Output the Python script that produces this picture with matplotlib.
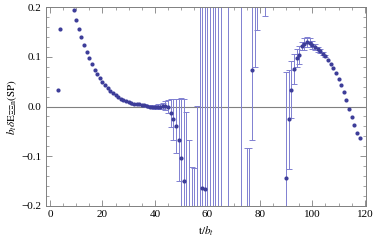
import matplotlib
matplotlib.use("Agg")
import matplotlib.pyplot as plt
from matplotlib.ticker import MultipleLocator
import numpy as np

plt.rcParams['font.family'] = ['Liberation Serif', 'DejaVu Serif']
plt.rcParams['mathtext.fontset'] = 'stix'

# early-time plateau region (t = 3 .. 51)
t_left = list(range(3, 52))
v_left = [0.033, 0.157, 0.30, 0.27, 0.24, 0.215, 0.195, 0.175, 0.157, 0.140,
          0.124, 0.109, 0.097, 0.085, 0.074, 0.065, 0.057, 0.050, 0.043, 0.037,
          0.032, 0.027, 0.023, 0.019, 0.016, 0.013, 0.011, 0.009, 0.007, 0.005,
          0.005, 0.005, 0.004, 0.003, 0.001, 0.000, -0.001, -0.001, 0.000, 0.000,
          0.001, 0.002, 0.000, -0.013, -0.026, -0.039, -0.067, -0.103, -0.151]
e_left = [0.0, 0.0, 0.0, 0.0, 0.0, 0.0, 0.0, 0.0, 0.0, 0.0,
          0.0, 0.0, 0.0, 0.0, 0.0, 0.0, 0.0, 0.0, 0.0, 0.0,
          0.0, 0.0, 0.0, 0.0, 0.0, 0.0, 0.0, 0.0, 0.0, 0.001,
          0.001, 0.001, 0.001, 0.002, 0.002, 0.003, 0.003, 0.004, 0.005, 0.006,
          0.007, 0.010, 0.013, 0.029, 0.042, 0.055, 0.083, 0.120, 0.167]

# noisy middle region
t_mid = [52, 53, 54, 55, 56, 57, 58, 59, 60, 61, 62, 63, 64, 65,
         68, 73, 75, 76, 77, 78, 79, 82]
v_mid = [-0.25, -0.30, -0.35, -0.40, -0.50, -0.60, -0.165, -0.166, -0.70, -0.80,
         -0.90, 0.90, 0.80, -0.70, 0.90, -0.90, -0.35, -0.30, 0.073, 0.35, 0.40, 0.50]
e_mid = [0.238, 0.233, 0.228, 0.275, 0.501, 1.0, 0.6, 0.6, 1.2, 1.2,
         1.3, 1.3, 1.2, 1.2, 1.4, 1.4, 0.266, 0.216, 0.14, 0.27, 0.245, 0.317]

# late-time region (t = 90 .. 118)
t_right = list(range(90, 119))
v_right = [-0.145, -0.026, 0.034, 0.075, 0.097, 0.104, 0.122, 0.126, 0.130, 0.129,
           0.124, 0.120, 0.115, 0.112, 0.106, 0.101, 0.094, 0.086, 0.077, 0.067,
           0.056, 0.043, 0.030, 0.013, -0.005, -0.022, -0.038, -0.053, -0.063]
e_right = [0.215, 0.100, 0.057, 0.030, 0.018, 0.018, 0.009, 0.012, 0.011, 0.010,
           0.008, 0.006, 0.005, 0.004, 0.003, 0.002, 0.0, 0.0, 0.0, 0.0,
           0.0, 0.0, 0.0, 0.0, 0.0, 0.0, 0.0, 0.0, 0.0]

t = np.array(t_left + t_mid + t_right)
v = np.array(v_left + v_mid + v_right)
e = np.array(e_left + e_mid + e_right)

fig = plt.figure(figsize=(3.74, 2.44), dpi=100)
ax = fig.add_axes([0.123, 0.157, 0.856, 0.813])

pt_col = (0.24, 0.24, 0.60)
bar_col = (0.50, 0.50, 0.82)

ax.axhline(0, color='0.5', lw=0.8, zorder=1)
has_err = e > 0
ax.errorbar(t[has_err], v[has_err], yerr=e[has_err], fmt='none', ecolor=bar_col,
            elinewidth=0.7, capsize=2.4, capthick=0.7, zorder=2)
ax.plot(t, v, 'o', color=pt_col, ms=3.0, mec='none', zorder=3)

ax.set_xlim(-1.5, 120.5)
ax.set_ylim(-0.2, 0.2)
ax.xaxis.set_major_locator(MultipleLocator(20))
ax.xaxis.set_minor_locator(MultipleLocator(5))
ax.yaxis.set_major_locator(MultipleLocator(0.1))
ax.yaxis.set_minor_locator(MultipleLocator(0.02))
ax.set_yticks([-0.2, -0.1, 0.0, 0.1, 0.2])
ax.set_yticklabels(['\u22120.2', '\u22120.1', '0.0', '0.1', '0.2'])

ax.tick_params(which='both', direction='in', top=True, right=True,
               color='0.5', labelsize=8, pad=3)
ax.tick_params(which='major', length=4, width=0.6)
ax.tick_params(which='minor', length=2, width=0.5)
for s in ax.spines.values():
    s.set_color('0.5')
    s.set_linewidth(0.7)

ax.set_xlabel(r'$\mathrm{t}/b_t$', fontsize=8, labelpad=4)
ax.set_ylabel(r'$b_t\delta\mathrm{E}_{\Xi\Xi\mathrm{n}}(\mathrm{SP})$', fontsize=8, labelpad=2)

fig.savefig('out.png', dpi=100)
